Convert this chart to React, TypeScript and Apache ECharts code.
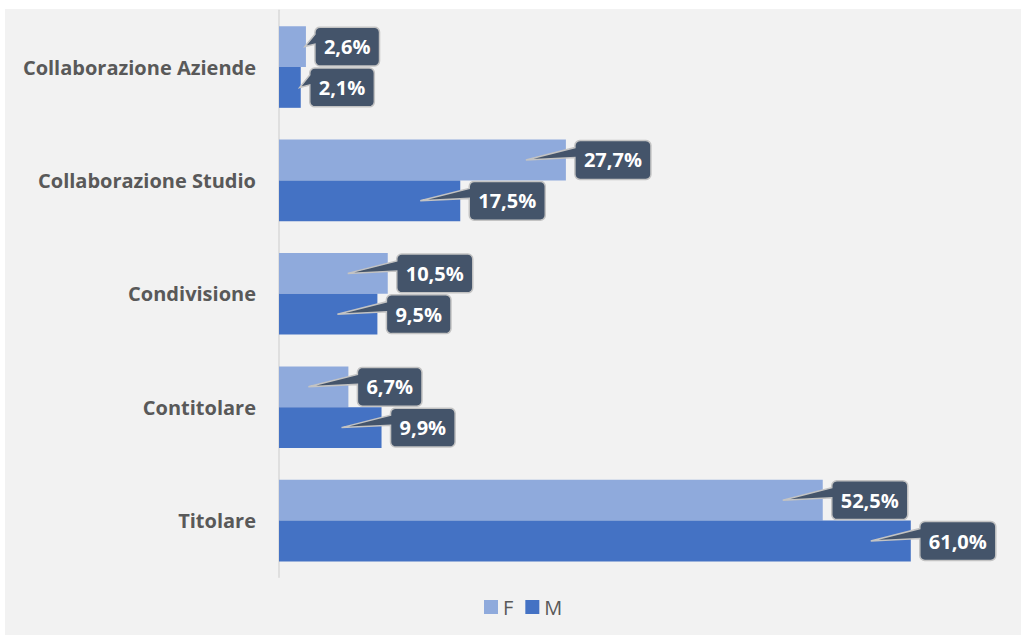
import React, { useEffect, useRef } from "react";
import * as echarts from "echarts";

const categories = [
  "Collaborazione Aziende",
  "Collaborazione Studio",
  "Condivisione",
  "Contitolare",
  "Titolare",
];
const seriesNames = ["F", "M"];
const valuesF = [2.6, 27.7, 10.5, 6.7, 52.5];
const valuesM = [2.1, 17.5, 9.5, 9.9, 61.0];

const COLOR_F = "#8FAADC";
const COLOR_M = "#4472C4";
const FONT = '"Open Sans", "Noto Sans", sans-serif';
const LABEL_FONT_SIZE = 20;
const CAT_GAP = 0.28;

const fmt = (v: number) => v.toFixed(1).replace(".", ",") + "%";

let measureCtx: CanvasRenderingContext2D | null = null;
function measure(t: string): number {
  if (!measureCtx) measureCtx = document.createElement("canvas").getContext("2d");
  if (!measureCtx) return t.length * 11;
  measureCtx.font = `bold ${LABEL_FONT_SIZE}px ${FONT}`;
  return measureCtx.measureText(t).width;
}

function calloutPoints(
  x0: number, y0: number, x1: number, y1: number, r: number,
  wTop: number, wBot: number, tx: number, ty: number
) {
  const pts: number[][] = [];
  const arc = (cx: number, cy: number, a0: number, a1: number) => {
    for (let k = 0; k <= 4; k++) {
      const a = a0 + ((a1 - a0) * k) / 4;
      pts.push([cx + r * Math.cos(a), cy + r * Math.sin(a)]);
    }
  };
  arc(x0 + r, y0 + r, Math.PI, 1.5 * Math.PI);
  arc(x1 - r, y0 + r, 1.5 * Math.PI, 2 * Math.PI);
  arc(x1 - r, y1 - r, 0, 0.5 * Math.PI);
  arc(x0 + r, y1 - r, 0.5 * Math.PI, Math.PI);
  pts.push([x0, wBot], [tx, ty], [x0, wTop]);
  return pts;
}

function makeRenderItem(isF: boolean) {
  return (params: any, api: any) => {
    const val = api.value(0);
    const idx = api.value(1);
    const end = api.coord([val, idx]);
    const start = api.coord([0, idx]);
    const band = api.size([0, 1])[1];
    const barW = (band * (1 - CAT_GAP)) / 2;
    const cy = end[1] + (isF ? -barW / 2 : barW / 2);
    const endX = end[0];
    const barLen = endX - start[0];
    const text = fmt(val);
    const tw = measure(text);
    const x0 = endX + 9;
    const x1 = x0 + tw + 18;
    const y0 = cy - barW / 2 + 1;
    const y1 = cy + barW / 2 - 1;
    const tipX = barLen > 50 ? endX - 40 : endX - 1;
    const tipY = cy;
    const pts = calloutPoints(x0, y0, x1, y1, 5, y0 + 7, y0 + 17, tipX, tipY);
    return {
      type: "group",
      children: [
        {
          type: "polygon",
          shape: { points: pts },
          style: { fill: "#44546A", stroke: "#C3C3C3", lineWidth: 1.5 },
        },
        {
          type: "text",
          style: {
            text,
            x: (x0 + x1) / 2,
            y: (y0 + y1) / 2,
            align: "center",
            verticalAlign: "middle",
            fill: "#FFFFFF",
            fontSize: LABEL_FONT_SIZE,
            fontWeight: "bold",
            fontFamily: FONT,
          },
        },
      ],
    };
  };
}

export default function App() {
  const ref = useRef<HTMLDivElement>(null);
  useEffect(() => {
    if (!ref.current) return;
    const chart = echarts.init(ref.current, undefined, { renderer: "svg" });
    chart.setOption({
      animation: false,
      backgroundColor: "#F2F2F2",
      grid: { left: 274, top: 1.3, bottom: 57.7, right: 17, containLabel: false },
      legend: {
        data: seriesNames,
        left: 474,
        top: 583,
        icon: "rect",
        itemWidth: 14,
        itemHeight: 14,
        itemGap: 12,
        textStyle: { color: "#595959", fontSize: 20, fontFamily: FONT },
      },
      xAxis: {
        type: "value",
        min: 0,
        max: 70,
        show: false,
        splitLine: { show: false },
      },
      yAxis: {
        type: "category",
        data: categories,
        inverse: true,
        axisTick: { show: false },
        axisLine: { show: true, lineStyle: { color: "#D9D9D9", width: 1.5 } },
        axisLabel: {
          color: "#595959",
          fontSize: 20,
          fontWeight: "bold",
          fontFamily: FONT,
          margin: 23,
        },
      },
      series: [
        {
          name: "F",
          type: "bar",
          data: valuesF,
          barGap: "0%",
          barCategoryGap: CAT_GAP * 100 + "%",
          itemStyle: { color: COLOR_F },
        },
        {
          name: "M",
          type: "bar",
          data: valuesM,
          barGap: "0%",
          barCategoryGap: CAT_GAP * 100 + "%",
          itemStyle: { color: COLOR_M },
        },
        {
          name: "labelF",
          type: "custom",
          data: valuesF.map((v, i) => [v, i]),
          encode: { x: 0, y: 1 },
          renderItem: makeRenderItem(true),
          z: 5,
          clip: false,
        },
        {
          name: "labelM",
          type: "custom",
          data: valuesM.map((v, i) => [v, i]),
          encode: { x: 0, y: 1 },
          renderItem: makeRenderItem(false),
          z: 5,
          clip: false,
        },
      ],
    });
    return () => chart.dispose();
  }, []);
  return (
    <div style={{ position: "absolute", left: 0, top: 0, width: 1021, height: 635, background: "#FFFFFF" }}>
      <div ref={ref} style={{ position: "absolute", left: 5, top: 9, width: 1016, height: 626 }} />
    </div>
  );
}
